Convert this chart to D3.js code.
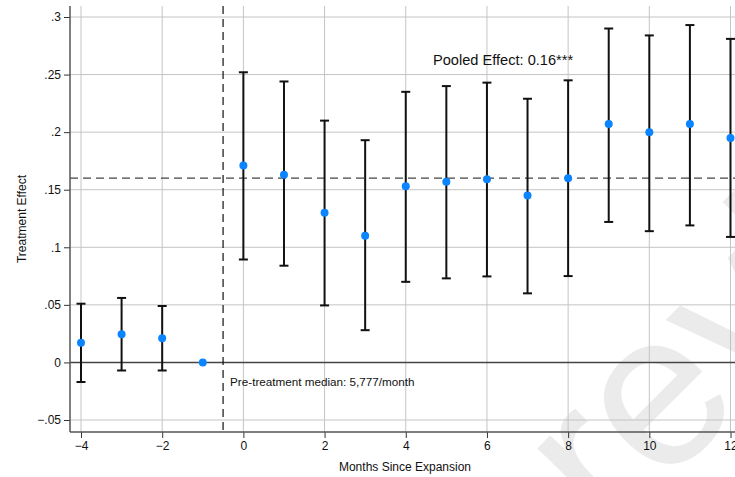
<!DOCTYPE html>
<html>
<head>
<meta charset="utf-8">
<script src="https://cdn.jsdelivr.net/npm/d3@7"></script>
<style>
  body { margin: 0; background: #fff; }
  svg text { font-family: "Liberation Sans", Arial, sans-serif; }
</style>
</head>
<body>
<div id="chart"></div>
<script>
// event-study estimates
const months = [-4, -3, -2, -1, 0, 1, 2, 3, 4, 5, 6, 7, 8, 9, 10, 11, 12]
const effect = [0.017, 0.0245, 0.021, 0, 0.171, 0.163, 0.130, 0.110, 0.153, 0.157, 0.159, 0.145, 0.160, 0.207, 0.200, 0.207, 0.195]
const ciLow = [-0.017, -0.007, -0.007, null, 0.0894, 0.084, 0.0495, 0.028, 0.070, 0.073, 0.0747, 0.060, 0.075, 0.122, 0.114, 0.119, 0.109]
const ciHigh = [0.051, 0.056, 0.049, null, 0.252, 0.244, 0.210, 0.193, 0.235, 0.240, 0.243, 0.229, 0.245, 0.290, 0.284, 0.293, 0.281]
const xTicks = [-4, -2, 0, 2, 4, 6, 8, 10, 12]
const yTicks = [-0.05, 0, 0.05, 0.1, 0.15, 0.2, 0.25, 0.3]
const pooled = 0.16
const cutoff = -0.5

const width = 735
const height = 477
const plot = { left: 70, right: 735, top: 6, bottom: 432 }

const svg = d3.select('#chart')
	.append('svg')
	.attr('width', width)
	.attr('height', height)

const x = d3.scaleLinear().domain([-4, 12]).range([81, 730.5])
const y = d3.scaleLinear().domain([-0.05, 0.3]).range([420, 17])

const data = months.map((m, i) => ({ m: m, b: effect[i], lo: ciLow[i], hi: ciHigh[i] }))

// watermark
svg.append('text')
	.attr('transform', 'translate(609,541) rotate(-45)')
	.attr('font-size', 220)
	.attr('fill', '#ebebeb')
	.text('review')

// grid
svg.append('g')
	.selectAll('line')
	.data(xTicks)
	.join('line')
	.attr('x1', d => x(d)).attr('x2', d => x(d))
	.attr('y1', plot.top).attr('y2', plot.bottom)
	.attr('stroke', '#c4c4c4')
	.attr('stroke-width', 1)

svg.append('g')
	.selectAll('line')
	.data(yTicks.filter(d => d != 0))
	.join('line')
	.attr('x1', plot.left).attr('x2', plot.right)
	.attr('y1', d => y(d)).attr('y2', d => y(d))
	.attr('stroke', '#c4c4c4')
	.attr('stroke-width', 1)

// zero line
svg.append('line')
	.attr('x1', plot.left).attr('x2', plot.right)
	.attr('y1', y(0)).attr('y2', y(0))
	.attr('stroke', '#444')
	.attr('stroke-width', 1.5)

// pooled effect line
svg.append('line')
	.attr('x1', plot.left).attr('x2', plot.right)
	.attr('y1', y(pooled)).attr('y2', y(pooled))
	.attr('stroke', '#444')
	.attr('stroke-width', 1.2)
	.attr('stroke-dasharray', '8,5')

// treatment start line
svg.append('line')
	.attr('x1', x(cutoff)).attr('x2', x(cutoff))
	.attr('y1', plot.top).attr('y2', plot.bottom)
	.attr('stroke', '#111')
	.attr('stroke-width', 1.2)
	.attr('stroke-dasharray', '8,5')

// axes
const xAxis = svg.append('g')
	.attr('transform', `translate(0,${plot.bottom})`)
	.call(d3.axisBottom(x).tickValues(xTicks).tickSize(6).tickPadding(3).tickFormat(d3.format('d')))
xAxis.select('.domain').remove()
xAxis.append('line')
	.attr('x1', plot.left).attr('x2', plot.right)
	.attr('stroke', '#555').attr('stroke-width', 1.5)

const yAxis = svg.append('g')
	.attr('transform', `translate(${plot.left},0)`)
	.call(d3.axisLeft(y).tickValues(yTicks).tickSize(6).tickPadding(3)
		.tickFormat(d => d == 0 ? '0' : d3.format('.2~f')(d).replace('0.', '.')))
yAxis.select('.domain').remove()
yAxis.append('line')
	.attr('y1', plot.top).attr('y2', plot.bottom)
	.attr('stroke', '#555').attr('stroke-width', 1.5)

const narrow = '"Liberation Sans Narrow", "Liberation Sans", Arial, sans-serif'
svg.selectAll('.tick line').attr('stroke', '#333')
svg.selectAll('.tick text')
	.attr('font-size', 12)
	.attr('fill', '#111')
	.style('font-family', narrow)

// error bars
const ci = data.filter(d => d.lo != null)
const bars = svg.append('g')
	.attr('stroke', '#111')
	.attr('stroke-width', 2)
bars.selectAll('.stem')
	.data(ci)
	.join('line')
	.attr('x1', d => x(d.m)).attr('x2', d => x(d.m))
	.attr('y1', d => y(d.lo)).attr('y2', d => y(d.hi))
bars.selectAll('.capHi')
	.data(ci)
	.join('line')
	.attr('x1', d => x(d.m) - 4.5).attr('x2', d => x(d.m) + 4.5)
	.attr('y1', d => y(d.hi)).attr('y2', d => y(d.hi))
bars.selectAll('.capLo')
	.data(ci)
	.join('line')
	.attr('x1', d => x(d.m) - 4.5).attr('x2', d => x(d.m) + 4.5)
	.attr('y1', d => y(d.lo)).attr('y2', d => y(d.lo))

// points
svg.append('g')
	.selectAll('circle')
	.data(data)
	.join('circle')
	.attr('cx', d => x(d.m))
	.attr('cy', d => y(d.b))
	.attr('r', 4)
	.attr('fill', '#0a84ff')

// labels
svg.append('text')
	.attr('x', 433).attr('y', 65)
	.attr('font-size', 14.6)
	.attr('fill', '#111')
	.style('font-family', narrow)
	.text('Pooled Effect: 0.16***')

svg.append('text')
	.attr('x', x(cutoff) + 7).attr('y', y(0) + 24)
	.attr('font-size', 11.7)
	.attr('fill', '#111')
	.style('font-family', narrow)
	.text('Pre-treatment median: 5,777/month')

svg.append('text')
	.attr('x', 405).attr('y', 471)
	.attr('text-anchor', 'middle')
	.attr('font-size', 12)
	.attr('fill', '#111')
	.style('font-family', narrow)
	.text('Months Since Expansion')

svg.append('text')
	.attr('transform', `translate(26,${(plot.top + plot.bottom) / 2}) rotate(-90)`)
	.attr('text-anchor', 'middle')
	.attr('font-size', 12)
	.attr('fill', '#111')
	.style('font-family', narrow)
	.text('Treatment Effect')
</script>
</body>
</html>
